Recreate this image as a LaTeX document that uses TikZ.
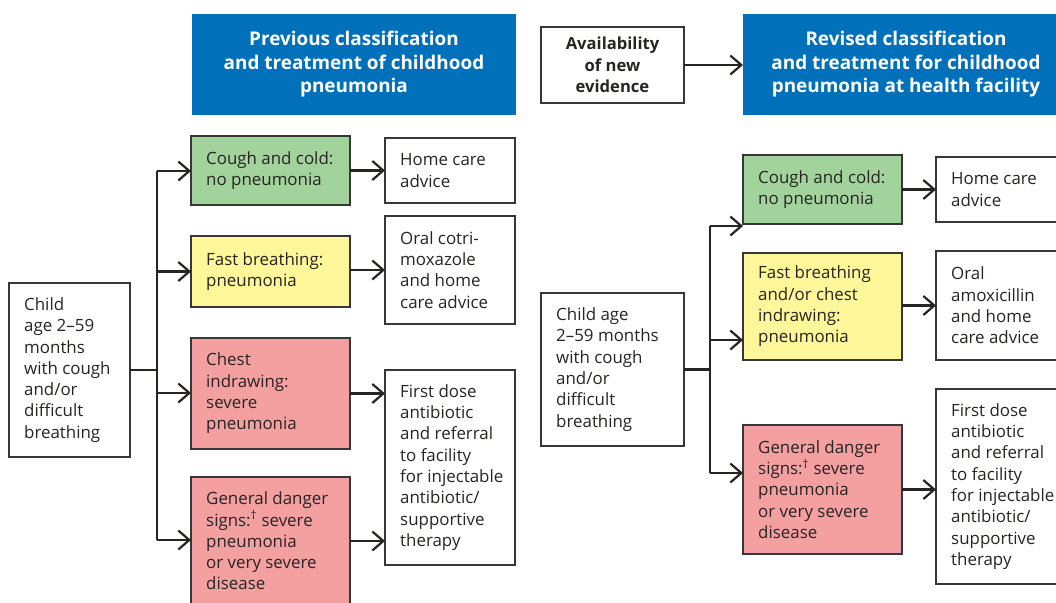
\documentclass[tikz,border=0pt]{standalone}
\usepackage{fontspec}
\setmainfont{Open Sans}
\usetikzlibrary{arrows.meta}
\definecolor{hdrblue}{RGB}{0,112,186}
\definecolor{gbox}{RGB}{163,211,156}
\definecolor{ybox}{RGB}{255,247,153}
\definecolor{rbox}{RGB}{244,160,160}
\definecolor{ink}{RGB}{40,36,36}
\definecolor{edge}{RGB}{55,55,55}
\tikzset{
  box/.style={draw=edge, line width=1.1pt, outer sep=0pt, inner sep=0pt, anchor=north west},
  txt/.style={anchor=west, align=left, text=ink, inner sep=0pt,
    font=\fontsize{16.9}{21.3}\selectfont},
  hdr/.style={fill=hdrblue, draw=none, outer sep=0pt, anchor=north west, align=center,
    text=white, font=\bfseries\fontsize{18.9}{23.5}\selectfont},
  arr/.style={draw=ink, line width=2.2pt, -{Straight Barb[length=11pt,width=19pt,line width=2.2pt]}},
  ln/.style={draw=ink, line width=2.2pt},
}
\newcommand{\bx}[7]{% name, style, x, y, w, h, text
  \node[box,#2, minimum width=#5pt, minimum height=#6pt] (#1) at (#3,#4) {};
  \node[txt] (#1t) at ([xshift=15pt]#1.west) {#7};}
\begin{document}
\begin{tikzpicture}[x=1pt,y=-1pt]
\clip (0,0) rectangle (1056,602);
\fill[white] (0,0) rectangle (1056,602);
% headers
\node[hdr, minimum width=324pt, minimum height=101pt] (hL) at (192,14)
  {Previous classification\\and treatment of childhood\\pneumonia};
\node[hdr, minimum width=326pt, minimum height=101pt] (hR) at (743,14)
  {Revised classification\\and treatment for childhood\\pneumonia at health facility};
\node[box, minimum width=143pt, minimum height=76pt, align=center, text=ink,
  font=\bfseries\fontsize{16.6}{21.5}\selectfont] (av) at (541,27)
  {Availability\\of new\\evidence};
\draw[arr] (av.east) -- (av.east -| hR.west);
% ---------- left ----------
\bx{cL}{}{9}{283}{121}{174}{Child\\age 2–59\\months\\with cough\\and/or\\difficult\\breathing}
\bx{gL}{fill=gbox}{191}{136}{159}{69}{Cough and cold:\\no pneumonia}
\bx{yL}{fill=ybox}{191}{236}{159}{71}{Fast breathing:\\pneumonia}
\bx{r1L}{fill=rbox}{191}{338}{159}{111}{Chest\\indrawing:\\severe\\pneumonia}
\bx{r2L}{fill=rbox}{191}{477}{159}{128}{General danger\\signs:\textsuperscript{\textdagger} severe\\pneumonia\\or very severe\\disease}
\bx{hcL}{}{385}{138}{130}{65}{Home care\\advice}
\bx{oL}{}{385}{216}{130}{108}{Oral cotri-\\moxazole\\and home\\care advice}
\bx{fL}{}{385}{370}{130}{195}{First dose\\antibiotic\\and referral\\to facility\\for injectable\\antibiotic/\\supportive\\therapy}
\coordinate (tL1) at (157,171);
\coordinate (tL4) at (157,540);
\draw[ln] (cL.east) -- (cL.east -| tL1);
\draw[ln] (tL1) -- (tL4);
\draw[arr] (tL1) -- (tL1 -| gL.west);
\draw[arr] (yL.west -| tL1) -- (yL.west);
\draw[arr] (tL1 |- 0,393) -- (r1L.west |- 0,393);
\draw[arr] (tL4) -- (tL4 -| r2L.west);
\draw[arr] (gL.east) -- (gL.east -| hcL.west);
\draw[arr] (oL.west -| yL.east) -- (oL.west);
\draw[arr] (r1L.east) -- (r1L.east -| fL.west);
\draw[arr] (r2L.east) -- (r2L.east -| fL.west);
% ---------- right ----------
\bx{cR}{}{541}{293}{143}{153}{Child age\\2–59 months\\with cough\\and/or\\difficult\\breathing}
\bx{gR}{fill=gbox}{743}{155}{159}{69}{Cough and cold:\\no pneumonia}
\bx{yR}{fill=ybox}{743}{253}{159}{107}{Fast breathing\\and/or chest\\indrawing:\\pneumonia}
\bx{rR}{fill=rbox}{743}{425}{159}{129}{General danger\\signs:\textsuperscript{\textdagger} severe\\pneumonia\\or very severe\\disease}
\bx{hcR}{}{936}{157}{130}{65}{Home care\\advice}
\bx{oR}{}{936}{251}{130}{109}{Oral\\amoxicillin\\and home\\care advice}
\bx{fR}{}{936}{389}{130}{195}{First dose\\antibiotic\\and referral\\to facility\\for injectable\\antibiotic/\\supportive\\therapy}
\coordinate (tR1) at (710,226);
\coordinate (tR3) at (710,473);
\draw[ln] (cR.east) -- (cR.east -| tR1);
\draw[ln] (tR1) -- (tR3);
\draw[arr] (tR1) -- (tR1 -| gR.west);
\draw[arr] (tR1 |- 0,340) -- (yR.west |- 0,340);
\draw[arr] (tR3) -- (tR3 -| rR.west);
\draw[arr] (gR.east) -- (gR.east -| hcR.west);
\draw[arr] (oR.west -| yR.east) -- (oR.west);
\draw[arr] (rR.east) -- (rR.east -| fR.west);
\end{tikzpicture}
\end{document}
